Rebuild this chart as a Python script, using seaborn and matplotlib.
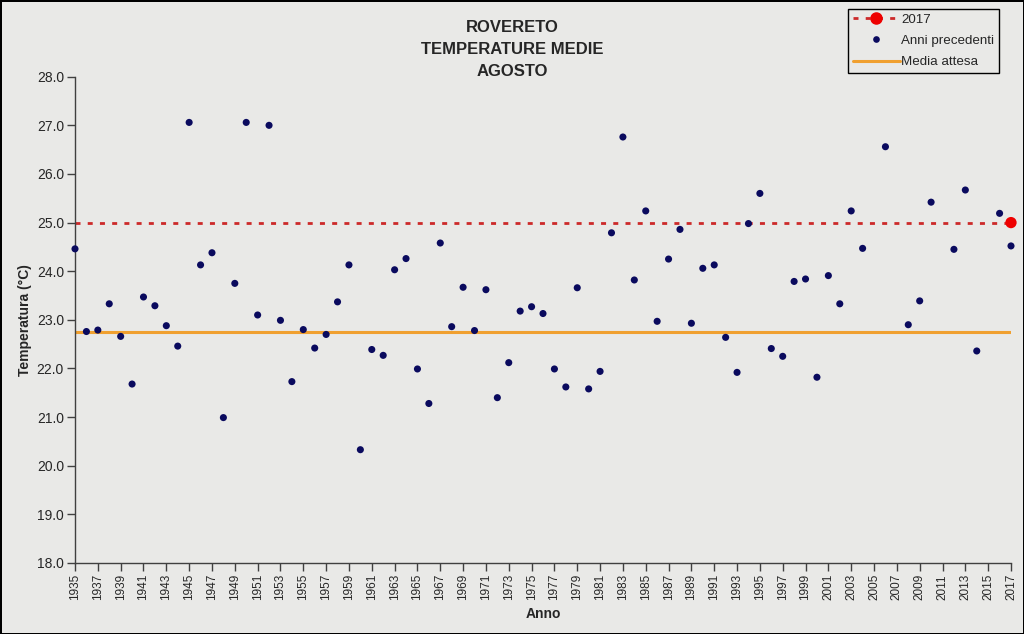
import numpy as np
import pandas as pd
import matplotlib
matplotlib.use("Agg")
import matplotlib.pyplot as plt
from matplotlib.lines import Line2D
import seaborn as sns

# ---- data ----
years_prev = list(range(1935, 2005)) + [2006, 2008, 2009, 2010, 2012, 2013, 2014, 2016, 2017]
temps_prev = [24.46, 22.76, 22.79, 23.33, 22.66, 21.68, 23.47, 23.29, 22.88, 22.46,
              27.06, 24.13, 24.38, 20.99, 23.75, 27.06, 23.10, 27.00, 22.99, 21.73,
              22.80, 22.42, 22.70, 23.37, 24.13, 20.33, 22.39, 22.27, 24.03, 24.26,
              21.99, 21.28, 24.58, 22.86, 23.67, 22.78, 23.62, 21.40, 22.12, 23.18,
              23.27, 23.13, 21.99, 21.62, 23.66, 21.58, 21.94, 24.79, 26.76, 23.82,
              25.24, 22.97, 24.25, 24.86, 22.93, 24.06, 24.13, 22.64, 21.92, 24.98,
              25.60, 22.41, 22.25, 23.79, 23.84, 21.82, 23.91, 23.33, 25.24, 24.47,
              26.56, 22.90, 23.39, 25.42, 24.45, 25.67, 22.36, 25.19, 24.52]
year_current = [2017]
temp_current = [25.0]
line_years = [1935, 2017]
media_attesa = [22.76, 22.76]
current_line = [25.0, 25.0]
tick_years = list(range(1935, 2018, 2))
y_ticks = [18, 19, 20, 21, 22, 23, 24, 25, 26, 27, 28]
title_lines = ["ROVERETO", "TEMPERATURE MEDIE", "AGOSTO"]

df_prev = pd.DataFrame({"Anno": years_prev, "T": temps_prev})
df_cur = pd.DataFrame({"Anno": year_current, "T": temp_current})
df_media = pd.DataFrame({"Anno": line_years, "T": media_attesa})
df_line = pd.DataFrame({"Anno": line_years, "T": current_line})

sns.set_theme(style="white")
plt.rcParams["font.family"] = ["Liberation Sans", "DejaVu Sans"]

bg = "#e9e9e7"
fig = plt.figure(figsize=(10.24, 6.34), dpi=100, facecolor=bg)
fig.patch.set_edgecolor("black")
fig.patch.set_linewidth(2)
ax = fig.add_axes([75/1024, 1-563/634, (1011-75)/1024, (563-76.7)/634])
ax.set_facecolor(bg)

navy = "#0a0a5e"
red_line = "#cc2a2a"
orange = "#f0a030"
dash = (0, (1.8, 2.6))

sns.lineplot(data=df_media, x="Anno", y="T", ax=ax, color=orange, linewidth=2.2)
sns.lineplot(data=df_line, x="Anno", y="T", ax=ax, color=red_line, linewidth=2.0,
             linestyle=dash)
sns.scatterplot(data=df_prev, x="Anno", y="T", ax=ax, color=navy, s=26,
                edgecolor="none", clip_on=False, zorder=5)
sns.scatterplot(data=df_cur, x="Anno", y="T", ax=ax, color="#ee0000", s=66,
                edgecolor="none", clip_on=False, zorder=6)

ax.set_xlim(1935, 2017)
ax.set_ylim(18, 28)
ax.set_xticks(tick_years)
ax.set_xticklabels([str(y) for y in tick_years], rotation=90, fontsize=8.5)
ax.set_yticks(y_ticks)
ax.set_yticklabels([f"{v:.1f}" for v in y_ticks], fontsize=10)
ax.tick_params(axis="both", direction="out", length=6, width=1, color="#404040",
               bottom=True, left=True, pad=2)
for s in ["top", "right"]:
    ax.spines[s].set_visible(False)
for s in ["left", "bottom"]:
    ax.spines[s].set_color("#404040")
    ax.spines[s].set_linewidth(1)

ax.set_xlabel("Anno", fontsize=10, fontweight="bold")
ax.xaxis.set_label_coords(0.5, -0.0897)
ax.set_ylabel("Temperatura (°C)", fontsize=10, fontweight="bold")
ax.yaxis.set_label_coords(-0.0463, 0.5)

for i, t in enumerate(title_lines):
    fig.text(0.5, 1-(28 + 22*i)/634, t, ha="center", va="center",
             fontsize=12, fontweight="bold")

handles = [
    Line2D([], [], color=red_line, linestyle=dash, linewidth=2.0,
           marker="o", markersize=8, markerfacecolor="#ee0000", markeredgecolor="#ee0000"),
    Line2D([], [], color=navy, linestyle="none", marker="o", markersize=4.8,
           markeredgecolor="none"),
    Line2D([], [], color=orange, linewidth=2.2),
]
leg = fig.legend(handles, ["2017", "Anni precedenti", "Media attesa"],
                 loc="upper right", bbox_to_anchor=(999/1024, 1-9/634),
                 frameon=True, fancybox=False, fontsize=9.6, handlelength=3.5,
                 borderpad=0.35, labelspacing=0.66, handletextpad=0.12,
                 borderaxespad=0)
leg.get_frame().set_edgecolor("black")
leg.get_frame().set_linewidth(1)
leg.get_frame().set_facecolor(bg)
leg.get_frame().set_alpha(1)

fig.savefig("out.png", dpi=100, facecolor=bg, edgecolor="black")
